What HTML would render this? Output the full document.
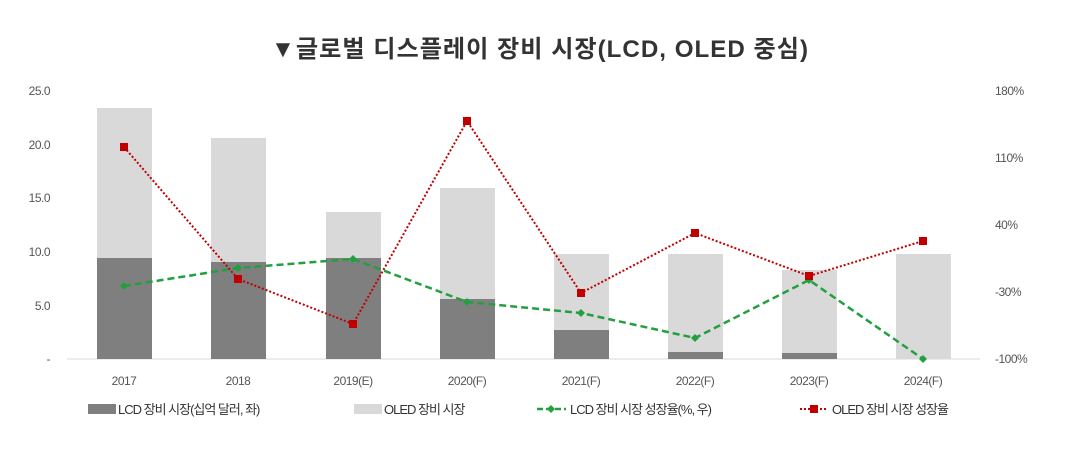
<!DOCTYPE html>
<html><head><meta charset="utf-8"><style>
body{margin:0;background:#fff;}
svg{display:block;font-family:"Liberation Sans","Noto Sans CJK KR",sans-serif;}
</style></head><body>
<svg width="1082" height="452" viewBox="0 0 1082 452">
<text x="540" y="57" text-anchor="middle" font-size="24" font-weight="bold" fill="#333" letter-spacing="1" textLength="538" lengthAdjust="spacingAndGlyphs">▼글로벌 디스플레이 장비 시장(LCD, OLED 중심)</text>
<g font-size="12" fill="#555" letter-spacing="-0.5">
<text x="50" y="95" text-anchor="end">25.0</text>
<text x="50" y="149" text-anchor="end">20.0</text>
<text x="50" y="202" text-anchor="end">15.0</text>
<text x="50" y="256" text-anchor="end">10.0</text>
<text x="50" y="310" text-anchor="end">5.0</text>
<text x="50" y="363" text-anchor="end">-</text>
<text x="995" y="95">180%</text>
<text x="995" y="162">110%</text>
<text x="995" y="229">40%</text>
<text x="995" y="296">-30%</text>
<text x="995" y="363">-100%</text>
</g>
<line x1="67" y1="359" x2="980" y2="359" stroke="#d8d8d8"/>
<g>
<rect x="97" y="108" width="55" height="150" fill="#d9d9d9"/><rect x="97" y="258" width="55" height="101" fill="#7f7f7f"/>
<rect x="211" y="138" width="55" height="124" fill="#d9d9d9"/><rect x="211" y="262" width="55" height="97" fill="#7f7f7f"/>
<rect x="326" y="212" width="55" height="46" fill="#d9d9d9"/><rect x="326" y="258" width="55" height="101" fill="#7f7f7f"/>
<rect x="440" y="188" width="55" height="111" fill="#d9d9d9"/><rect x="440" y="299" width="55" height="60" fill="#7f7f7f"/>
<rect x="554" y="254" width="55" height="76" fill="#d9d9d9"/><rect x="554" y="330" width="55" height="29" fill="#7f7f7f"/>
<rect x="668" y="254" width="55" height="98" fill="#d9d9d9"/><rect x="668" y="352" width="55" height="7" fill="#7f7f7f"/>
<rect x="782" y="270" width="55" height="83" fill="#d9d9d9"/><rect x="782" y="353" width="55" height="6" fill="#7f7f7f"/>
<rect x="896" y="254" width="55" height="105" fill="#d9d9d9"/>
</g>
<polyline points="124,286 238,268 353,259 467,302 581,313 695,338 809,280 923,359" fill="none" stroke="#22a040" stroke-width="2.5" stroke-dasharray="7,4"/>
<g fill="#22a040">
<path d="M124,282l4,4l-4,4l-4,-4z"/><path d="M238,264l4,4l-4,4l-4,-4z"/><path d="M353,255l4,4l-4,4l-4,-4z"/><path d="M467,298l4,4l-4,4l-4,-4z"/><path d="M581,309l4,4l-4,4l-4,-4z"/><path d="M695,334l4,4l-4,4l-4,-4z"/><path d="M809,276l4,4l-4,4l-4,-4z"/><path d="M923,355l4,4l-4,4l-4,-4z"/>
</g>
<polyline points="124,147 238,279 353,324 467,121 581,293 695,233 809,276 923,241" fill="none" stroke="#c00000" stroke-width="2" stroke-dasharray="2,2"/>
<g fill="#c00000">
<rect x="120" y="143" width="8" height="8"/><rect x="234" y="275" width="8" height="8"/><rect x="349" y="320" width="8" height="8"/><rect x="463" y="117" width="8" height="8"/><rect x="577" y="289" width="8" height="8"/><rect x="691" y="229" width="8" height="8"/><rect x="805" y="272" width="8" height="8"/><rect x="919" y="237" width="8" height="8"/>
</g>
<g font-size="12" fill="#555" text-anchor="middle" letter-spacing="-0.5">
<text x="124" y="385">2017</text><text x="238" y="385">2018</text><text x="353" y="385">2019(E)</text><text x="467" y="385">2020(F)</text><text x="581" y="385">2021(F)</text><text x="695" y="385">2022(F)</text><text x="809" y="385">2023(F)</text><text x="923" y="385">2024(F)</text>
</g>
<g font-size="13" fill="#333" letter-spacing="-1">
<rect x="88" y="404" width="28" height="10" fill="#7f7f7f"/><text x="118" y="414">LCD 장비 시장(십억 달러, 좌)</text>
<rect x="354" y="404" width="28" height="10" fill="#d9d9d9"/><text x="384" y="414">OLED 장비 시장</text>
<line x1="537" y1="409" x2="566" y2="409" stroke="#22a040" stroke-width="2.5" stroke-dasharray="6,3"/><path d="M551,405l4,4l-4,4l-4,-4z" fill="#22a040"/><text x="570" y="414">LCD 장비 시장 성장율(%, 우)</text>
<line x1="800" y1="409" x2="828" y2="409" stroke="#c00000" stroke-width="2" stroke-dasharray="2,2"/><rect x="810" y="405" width="8" height="8" fill="#c00000"/><text x="832" y="414">OLED 장비 시장 성장율</text>
</g>
</svg>
</body></html>
